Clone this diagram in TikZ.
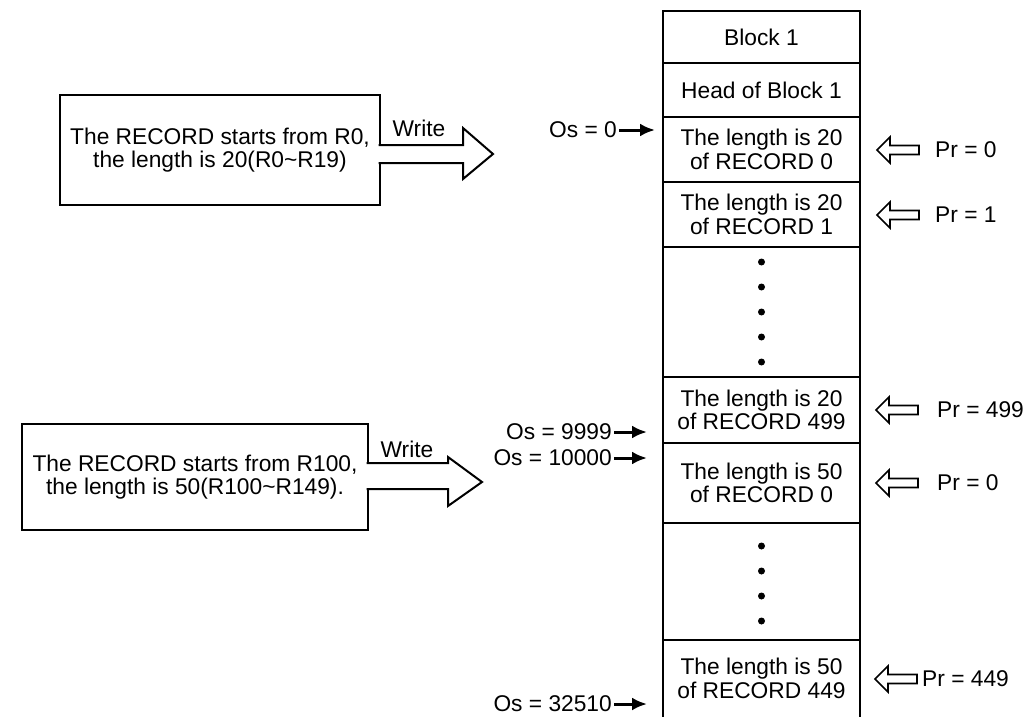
\documentclass[tikz,border=0pt]{standalone}
\usepackage{fontspec}
\setmainfont{Liberation Sans}
\usetikzlibrary{arrows.meta,positioning}

\begin{document}
\begin{tikzpicture}[
    x=1pt, y=-1pt,
    >=Latex,
    every node/.style={font=\fontsize{22.75}{23.5}\selectfont},
    cell/.style={draw, line width=2.6pt, minimum width=197pt, inner sep=0pt, outer sep=0pt, align=center},
    srcbox/.style={draw, line width=2pt, inner sep=0pt, outer sep=0pt, align=center},
    wr/.style={draw, fill=white, line width=2pt, line join=miter},
    oslab/.style={anchor=east, inner sep=2pt},
    prlab/.style={anchor=west, inner sep=2pt},
    osarr/.style={->, line width=3pt, >={Latex[length=15pt,width=13pt]}},
    larr/.pic={\draw[line width=1.6pt, fill=white] (0,0) -- (13,-13) -- (13,-4.5) -- (42,-4.5) -- (42,4.5) -- (13,4.5) -- (13,13) -- cycle;}
]
    \useasboundingbox (0,0) rectangle (1026,717);

    % memory column
    \node[cell, minimum height=52pt] (blk) at (761.5,37) {Block 1};
    \node[cell, minimum height=54pt, below=0pt of blk] (head) {Head of Block 1};
    \node[cell, minimum height=65pt, below=0pt of head] (rec0) {The length is 20\\of RECORD 0};
    \node[cell, minimum height=65pt, below=0pt of rec0] (rec1) {The length is 20\\of RECORD 1};
    \node[cell, minimum height=130pt, below=0pt of rec1] (gapA) {};
    \node[cell, minimum height=66pt, below=0pt of gapA] (rec499) {The length is 20\\of RECORD 499};
    \node[cell, minimum height=80pt, below=0pt of rec499] (recb0) {The length is 50\\of RECORD 0};
    \node[cell, minimum height=117pt, below=0pt of recb0] (gapB) {};
    \node[cell, draw=none, minimum height=77pt, below=0pt of gapB] (rec449) {The length is 50\\of RECORD 449};
    \draw[line width=2.6pt] (rec449.south west) -- (rec449.north west) (rec449.north east) -- (rec449.south east);

    \foreach \k in {0,...,4}
        \fill ([yshift=-15pt-\k*25pt]gapA.north) circle[radius=3.5pt];
    \foreach \k in {0,...,3}
        \fill ([yshift=-23pt-\k*25pt]gapB.north) circle[radius=3.5pt];

    % records to write
    \node[srcbox, minimum width=320pt, minimum height=110pt] (src1) at (220,150) {The RECORD starts from R0,\\the length is 20(R0\textasciitilde R19)};
    \node[srcbox, minimum width=346pt, minimum height=106pt] (src2) at (195,477) {The RECORD starts from R100,\\the length is 50(R100\textasciitilde R149).};

    \draw[wr] (src1.east) ++(-1.5,-5) -- ++(84.5,0) -- ++(0,-17) -- ++(30,26) -- ++(-30,25) -- ++(0,-16) -- ++(-84.5,0);
    \draw[wr] (src2.east) ++(-1.5,-14) -- ++(81.5,0) -- ++(0,-6) -- ++(34,25) -- ++(-34,24) -- ++(0,-17) -- ++(-81.5,0);
    \node (w1) at (419,128) {Write};
    \node (w2) at (407,449) {Write};

    % offsets
    \node[oslab] (os0) at (619,130) {Os = 0};
    \node[oslab] (os9999) at (614,432) {Os = 9999};
    \node[oslab] (os10000) at (614,458) {Os = 10000};
    \node[oslab] (os32510) at (614,704) {Os = 32510};
    \draw[osarr, shorten >=8pt] (os0.east) -- (rec0.west |- os0.east);
    \draw[osarr, shorten >=16pt] (os9999.east) -- (rec499.west |- os9999.east);
    \draw[osarr, shorten >=16pt] (os10000.east) -- (recb0.west |- os10000.east);
    \draw[osarr, shorten >=16pt] (os32510.east) -- (rec449.west |- os32510.east);

    % record pointers
    \node[prlab] (pr0) at (933,150) {Pr = 0};
    \node[prlab] (pr1) at (933,215) {Pr = 1};
    \node[prlab] (pr499) at (935,410) {Pr = 499};
    \node[prlab] (prb0) at (935,483) {Pr = 0};
    \node[prlab] (pr449) at (920,679) {Pr = 449};
    \pic at (877,150) {larr};
    \pic at (877,215) {larr};
    \pic at (876,410) {larr};
    \pic at (876,483) {larr};
    \pic at (875,679) {larr};
\end{tikzpicture}
\end{document}
